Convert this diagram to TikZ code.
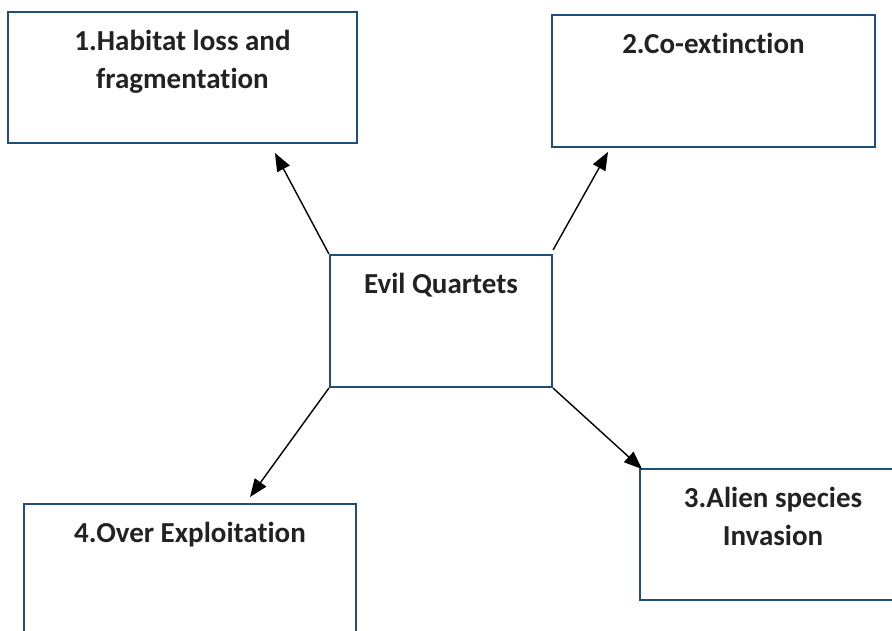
\documentclass[tikz,border=0pt]{standalone}
\usepackage{fontspec}
\setmainfont{Carlito}[Ligatures=CommonOff]
\usetikzlibrary{arrows.meta}
\definecolor{boxblue}{HTML}{1F4E79}
\definecolor{txt}{HTML}{222222}
\tikzset{
  boxnode/.style={draw=boxblue, line width=2.2pt, fill=none, rectangle, inner sep=0pt},
  label text/.style={font=\fontsize{29}{38}\selectfont\bfseries, text=txt, align=center, anchor=base, inner sep=0pt},
  conn/.style={line width=1.4pt, draw=black, -{Triangle[length=18pt,width=14pt]}}
}
\begin{document}
\begin{tikzpicture}[x=1pt,y=-1pt]
\useasboundingbox (0,0) rectangle (892,630);
\clip (0,0) rectangle (892,630);
\node[boxnode, minimum width=349pt, minimum height=131pt] (b1) at (182.5,77.5) {};
\node[boxnode, minimum width=323pt, minimum height=132pt] (b2) at (713.5,81) {};
\node[boxnode, minimum width=222pt, minimum height=132pt] (c) at (441,321) {};
\node[boxnode, minimum width=280pt, minimum height=131pt] (b3) at (780,534.5) {};
\node[boxnode, minimum width=332pt, minimum height=150pt] (b4) at (190,579) {};
\node[label text] (t1) at (182.5,88) {1.Habitat loss and\\fragmentation};
\node[label text] (t2) at (713.5,53) {2.Co-extinction};
\node[label text] (tc) at (441,293) {Evil Quartets};
\node[label text] (t3) at (773,545) {3.Alien species\\Invasion};
\node[label text] (t4) at (190,542) {4.Over Exploitation};
\coordinate (e1) at (275,153);
\coordinate (e2) at (608,152);
\coordinate (e3) at (250,497);
\coordinate (e4) at (642,469);
\draw[conn] (c.north west) -- (e1);
\draw[conn] ([yshift=4pt]c.north east) -- (e2);
\draw[conn] (c.south west) -- (e3);
\draw[conn] (c.south east) -- (e4);
\end{tikzpicture}
\end{document}
